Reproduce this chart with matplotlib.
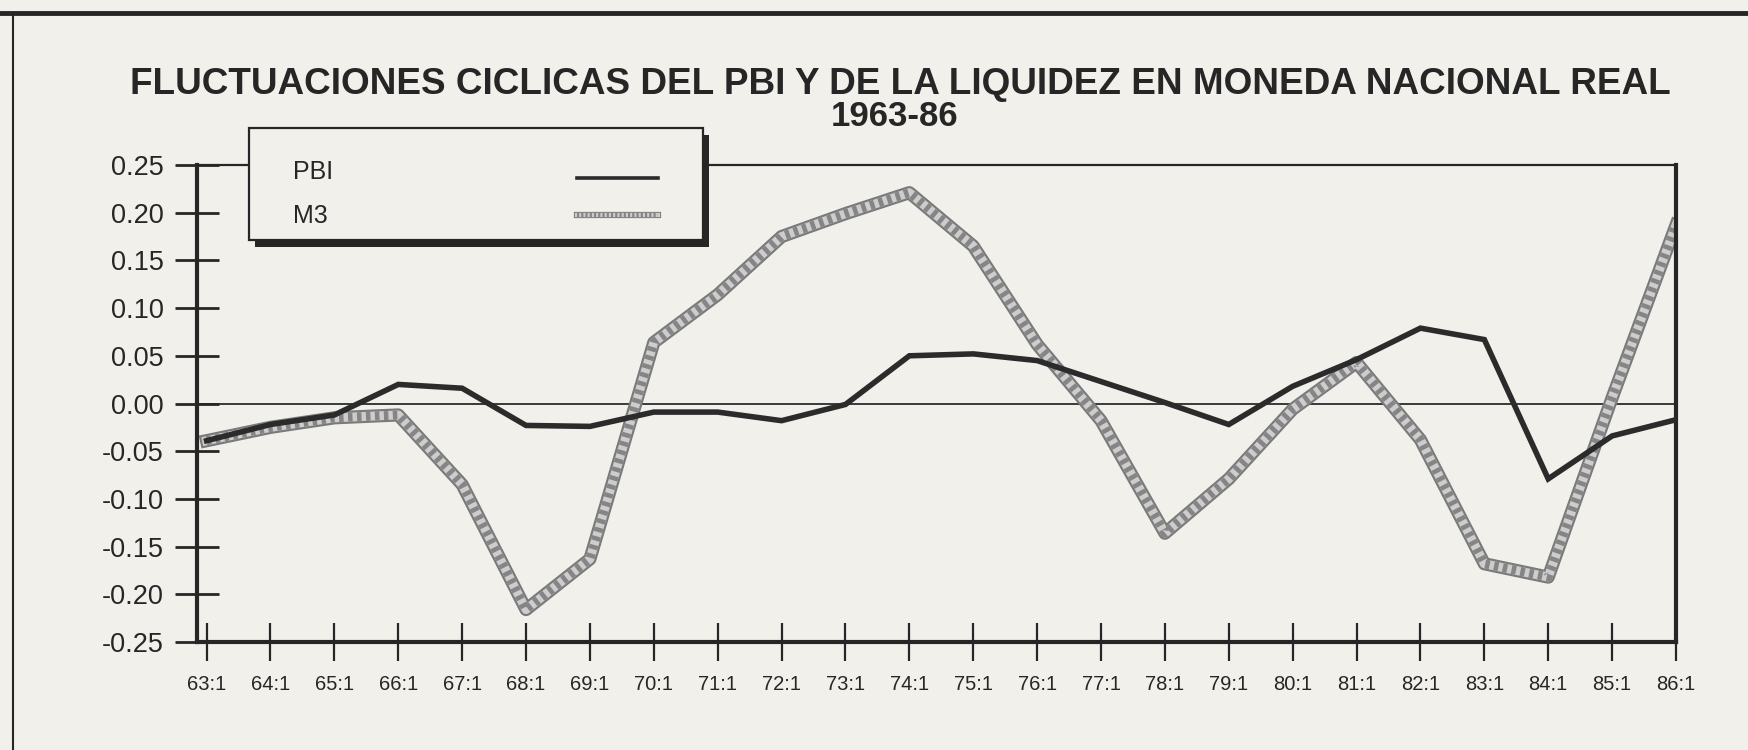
import matplotlib
matplotlib.use('Agg')
import matplotlib.pyplot as plt
from matplotlib.patches import Rectangle
from matplotlib.lines import Line2D
import numpy as np

plt.rcParams['font.family'] = ['Liberation Sans', 'DejaVu Sans']
plt.rcParams['axes.unicode_minus'] = False

# --- datos ---
periodos = ['63:1', '64:1', '65:1', '66:1', '67:1', '68:1', '69:1', '70:1',
            '71:1', '72:1', '73:1', '74:1', '75:1', '76:1', '77:1', '78:1',
            '79:1', '80:1', '81:1', '82:1', '83:1', '84:1', '85:1', '86:1']
pbi = [-0.039, -0.022, -0.012, 0.020, 0.016, -0.023, -0.024, -0.009,
       -0.009, -0.018, -0.001, 0.050, 0.052, 0.045, 0.023, 0.001,
       -0.022, 0.018, 0.046, 0.079, 0.067, -0.079, -0.034, -0.017]
m3 = [-0.039, -0.025, -0.015, -0.012, -0.085, -0.216, -0.163, 0.064,
      0.114, 0.175, 0.199, 0.221, 0.165, 0.062, -0.018, -0.136,
      -0.079, -0.006, 0.043, -0.038, -0.168, -0.182, 0.006, 0.187]
yticks = [-0.25, -0.20, -0.15, -0.10, -0.05, 0.00, 0.05, 0.10, 0.15, 0.20, 0.25]

W, H = 1748, 750
PAPER = '#f2f0eb'
INK = '#262626'


def fx(px):
    return px / W


def fy(py):
    return 1 - py / H


def linea_pbi(target, xs, ys, lw=4.0, **kw):
    target.plot(xs, ys, color='#2b2b2b', lw=lw, solid_joinstyle='miter', **kw)


def linea_m3(target, xs, ys, lw=9.5, **kw):
    # trazo gris "tramado" como en la impresion original
    target.plot(xs, ys, color='#7a7a7a', lw=lw, solid_joinstyle='round', **kw)
    target.plot(xs, ys, color='#cdcdcd', lw=lw * 0.68, solid_joinstyle='round', **kw)
    target.plot(xs, ys, color='#858585', lw=lw * 0.68, ls=(0, (0.5, 0.5)), **kw)


fig = plt.figure(figsize=(W / 100, H / 100), dpi=100, facecolor=PAPER)
ax = fig.add_axes([fx(197), fy(642), fx(1676) - fx(197), fy(165) - fy(642)])
ax.set_facecolor(PAPER)

x = np.arange(len(periodos))
ax.axhline(0, color='#3a3a3a', lw=1.4, zorder=1)
linea_m3(ax, x, m3, zorder=2)
linea_pbi(ax, x, pbi, zorder=3)

ax.set_xlim(-0.15, len(periodos) - 1)
ax.set_ylim(-0.25, 0.25)
ax.set_xticks(x)
ax.set_xticklabels(periodos)
ax.set_yticks(yticks)
ax.set_yticklabels(['%.2f' % v for v in yticks])

ax.tick_params(axis='y', direction='inout', length=32, width=2, pad=8,
               labelsize=19.5, colors=INK)
ax.tick_params(axis='x', direction='inout', length=27, width=1.6, pad=10,
               labelsize=14.5, colors=INK)
for lado, ancho in [('left', 3), ('bottom', 3), ('right', 3), ('top', 1.6)]:
    ax.spines[lado].set_linewidth(ancho)
    ax.spines[lado].set_color(INK)

# titulo
fig.text(0.515, fy(84), 'FLUCTUACIONES CICLICAS DEL PBI Y DE LA LIQUIDEZ EN MONEDA NACIONAL REAL',
         ha='center', va='center', fontsize=26.6, fontweight='bold', color=INK)
fig.text(0.512, fy(117), '1963-86', ha='center', va='center', fontsize=25,
         fontweight='bold', color=INK)

# marco de la pagina
fig.add_artist(Line2D([0, 1], [fy(13), fy(13)], lw=3.5, color=INK))
fig.add_artist(Line2D([fx(13), fx(13)], [fy(13), 0], lw=1.5, color=INK))

# leyenda con sombra
fig.add_artist(Rectangle((fx(255), fy(247)), fx(703) - fx(249), fy(128) - fy(240),
                         transform=fig.transFigure, facecolor=INK, edgecolor='none', zorder=5))
fig.add_artist(Rectangle((fx(249), fy(240)), fx(703) - fx(249), fy(128) - fy(240),
                         transform=fig.transFigure, facecolor=PAPER, edgecolor=INK,
                         lw=1.6, zorder=6))
fig.text(fx(293), fy(172), 'PBI', ha='left', va='center', fontsize=18, color=INK, zorder=7)
fig.text(fx(293), fy(216), 'M3', ha='left', va='center', fontsize=18, color=INK, zorder=7)
leg = fig.add_axes([0, 0, 1, 1], facecolor='none', zorder=8)
leg.set_xlim(0, 1)
leg.set_ylim(0, 1)
leg.axis('off')
linea_pbi(leg, [fx(577), fx(658)], [fy(178), fy(178)], lw=2.6)
linea_m3(leg, [fx(577), fx(658)], [fy(215), fy(215)], lw=4.5)

fig.savefig('out.png', dpi=100, facecolor=PAPER)
